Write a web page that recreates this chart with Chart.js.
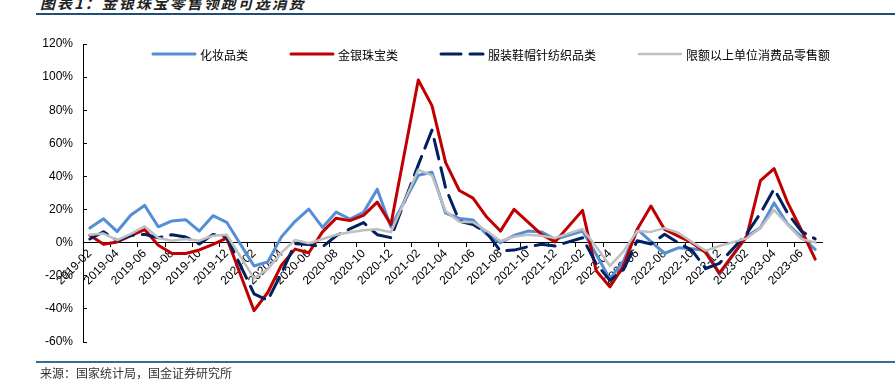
<!DOCTYPE html>
<html>
<head>
<meta charset="utf-8">
<script src="https://cdn.jsdelivr.net/npm/chart.js@4.4.1/dist/chart.umd.min.js"></script>
<style>
  body { margin: 0; background: #fff; }
  #wrap { position: relative; width: 895px; height: 380px; overflow: hidden; background: #fff; }
  #title { position: absolute; left: 40px; top: -8px; font: italic bold 15px "Noto Sans CJK SC"; letter-spacing: 2px; color: #222; white-space: nowrap; }
  .rule { position: absolute; left: 36px; right: 0; height: 2px; }
  #src { position: absolute; left: 40px; top: 364px; font: 12px "Noto Sans CJK SC"; color: #333; white-space: nowrap; }
  canvas { position: absolute; left: 0; top: 0; }
</style>
</head>
<body>
<div id="wrap">
  <div id="title">图表1：金银珠宝零售领跑可选消费</div>
  <div class="rule" style="top:13px;background:#1F4E79"></div>
  <canvas id="grafica" width="895" height="380"></canvas>
  <div class="rule" style="top:361px;height:1.5px;background:#31708F"></div>
  <div id="src">来源：国家统计局，国金证券研究所</div>
</div>
<script>
// meses (enero sin dato: se publica junto con febrero)
const meses = [
  '2019-02','2019-03','2019-04','2019-05','2019-06','2019-07','2019-08','2019-09','2019-10','2019-11','2019-12',
  '2020-01','2020-02','2020-03','2020-04','2020-05','2020-06','2020-07','2020-08','2020-09','2020-10','2020-11','2020-12',
  '2021-01','2021-02','2021-03','2021-04','2021-05','2021-06','2021-07','2021-08','2021-09','2021-10','2021-11','2021-12',
  '2022-01','2022-02','2022-03','2022-04','2022-05','2022-06','2022-07','2022-08','2022-09','2022-10','2022-11','2022-12',
  '2023-01','2023-02','2023-03','2023-04','2023-05','2023-06','2023-07'
];

const cosmeticos = [
  8.9, 14.4, 6.7, 16.7, 22.5, 9.6, 13.1, 13.9, 7.0, 16.3, 12.3,
  null, -14.1, -11.6, 3.5, 12.9, 20.3, 9.2, 18.5, 14.3, 18.3, 32.3, 9.5,
  null, 40.7, 42.5, 17.8, 14.6, 13.7, 5.0, 0.0, 4.3, 7.0, 6.5, 2.0,
  null, 7.0, -7.0, -22.0, -11.0, 8.1, 0.7, -6.4, -3.1, -3.7, -4.8, -19.0,
  null, 3.8, 9.0, 24.0, 11.0, 3.5, -4.1
];

const joyeria = [
  4.5, -1.0, 0.4, 4.2, 7.9, -1.6, -6.5, -6.5, -4.4, -1.0, 2.8,
  null, -41.1, -30.1, -13.6, -3.9, -6.1, 6.5, 14.8, 13.3, 16.5, 24.5, 11.0,
  null, 98.3, 82.8, 48.4, 31.5, 26.9, 15.5, 7.0, 20.1, 12.5, 5.0, 0.5,
  null, 19.5, -17.0, -26.7, -14.0, 8.1, 22.1, 8.0, 4.0, 0.0, -6.0, -18.4,
  null, 4.0, 37.4, 44.7, 24.0, 7.5, -10.0
];

const ropa = [
  2.2, 6.6, 1.2, 4.4, 5.0, 3.0, 4.8, 3.4, -0.8, 5.0, 3.5,
  null, -30.9, -34.8, -18.5, -0.6, -1.1, -2.5, 4.2, 8.3, 12.1, 4.8, 3.0,
  null, 47.0, 68.0, 33.0, 13.0, 11.0, 6.0, -5.0, -4.5, -2.5, -1.0, -2.0,
  null, 3.0, -12.7, -22.8, -16.2, 1.2, -0.8, 5.1, -0.1, -4.6, -15.6, -12.5,
  null, 5.4, 17.7, 32.4, 17.6, 6.9, 2.3
];

const totalLimite = [
  4.8, 5.5, 1.6, 5.3, 9.9, 2.8, 1.2, 2.2, 1.2, 4.2, 4.8,
  null, -21.5, -16.0, -6.0, 1.6, -0.4, 2.2, 4.8, 6.3, 7.5, 8.1, 6.3,
  null, 44.0, 40.6, 19.0, 12.7, 12.3, 7.0, 1.0, 3.6, 4.8, 4.2, 2.8,
  null, 8.3, -2.5, -14.0, -5.2, 7.1, 6.5, 8.8, 6.0, 0.4, -4.8, -2.0,
  null, 2.6, 8.8, 19.7, 10.8, 2.2, 0.1
];

const ticksY = [-60, -40, -20, 0, 20, 40, 60, 80, 100, 120];

// leyenda dentro del area del grafico, como en el original
const leyendaInterna = {
  id: 'leyendaInterna',
  afterDraw(chart) {
    const c = chart.ctx;
    let x = 153;
    const y = 54;
    c.save();
    c.font = '12px "Noto Sans CJK SC"';
    c.textBaseline = 'middle';
    chart.data.datasets.forEach(ds => {
      c.strokeStyle = ds.borderColor;
      c.lineWidth = ds.borderWidth;
      c.lineCap = 'round';
      c.setLineDash(ds.borderDash || []);
      c.beginPath();
      c.moveTo(x, y);
      c.lineTo(x + 42, y);
      c.stroke();
      c.setLineDash([]);
      c.fillStyle = '#000';
      c.fillText(ds.label, x + 47, y + 1);
      x += 47 + c.measureText(ds.label).width + 43;
    });
    c.restore();
  }
};

Chart.defaults.font.family = '"Liberation Sans", Arial, sans-serif';
Chart.defaults.color = '#000';

const ctx = document.getElementById('grafica').getContext('2d');

new Chart(ctx, {
  type: 'line',
  data: {
    labels: meses,
    datasets: [
      { label: '化妆品类', data: cosmeticos, borderColor: '#558ED5', borderWidth: 3, order: 3 },
      { label: '金银珠宝类', data: joyeria, borderColor: '#C00000', borderWidth: 3, order: 2 },
      { label: '服装鞋帽针纺织品类', data: ropa, borderColor: '#002060', borderWidth: 3, borderDash: [20, 9], order: 1 },
      { label: '限额以上单位消费品零售额', data: totalLimite, borderColor: '#BFBFBF', borderWidth: 2.5, order: 0 }
    ]
  },
  options: {
    responsive: false,
    animation: false,
    spanGaps: true,
    layout: { padding: { left: 0, top: 44, right: 73, bottom: 38 } },
    elements: {
      point: { radius: 0 },
      line: { tension: 0, borderCapStyle: 'round', borderJoinStyle: 'round' }
    },
    plugins: {
      legend: { display: false },
      tooltip: { enabled: false }
    },
    scales: {
      x: {
        type: 'category',
        position: { y: 0 },
        offset: true,
        grid: {
          offset: true,
          drawOnChartArea: false,
          drawTicks: true,
          tickLength: 4,
          color: c => (c.index % 2 === 0 ? '#000' : 'rgba(0,0,0,0)')
        },
        border: { display: true, color: '#000', width: 1 },
        ticks: {
          autoSkip: false,
          minRotation: 45,
          maxRotation: 45,
          padding: 0,
          font: { size: 12 },
          callback: function (v, i) { return i % 2 === 0 ? this.getLabelForValue(v) : ''; }
        },
        afterFit: s => { s.height = 0; }
      },
      y: {
        min: ticksY[0],
        max: ticksY[ticksY.length - 1],
        afterBuildTicks: s => { s.ticks = ticksY.map(v => ({ value: v })); },
        ticks: { padding: 14, font: { size: 12 }, callback: v => v + '%' },
        grid: { drawOnChartArea: false, drawTicks: true, tickLength: -4, color: '#000' },
        border: { display: true, color: '#000', width: 1 },
        afterFit: s => { s.width = 83; }
      }
    }
  },
  plugins: [leyendaInterna]
});
</script>
</body>
</html>
